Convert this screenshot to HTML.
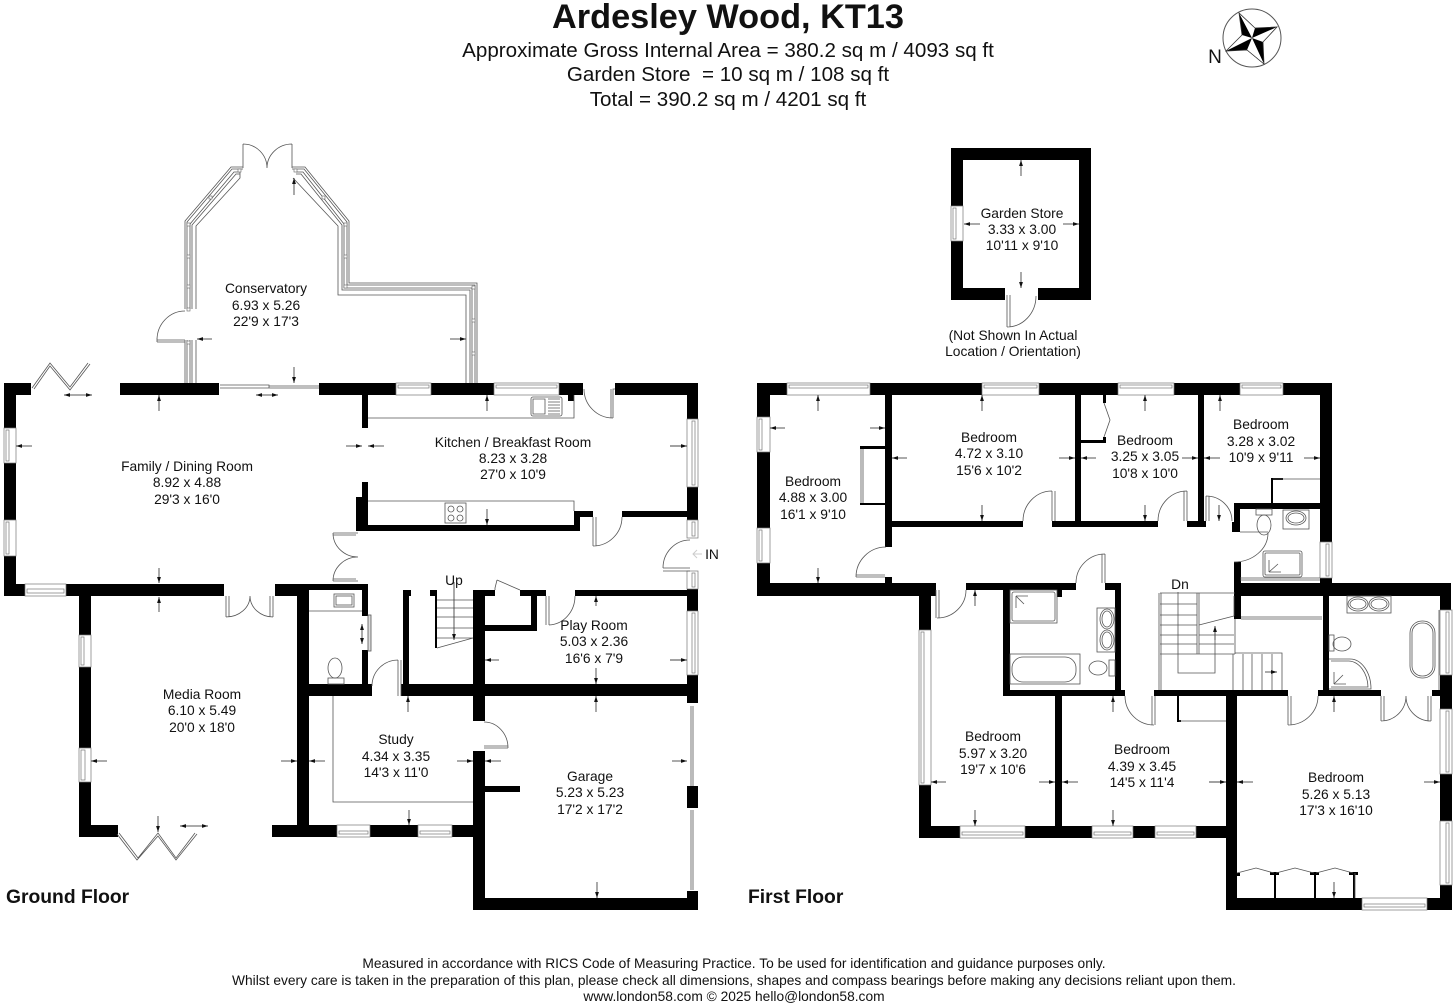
<!DOCTYPE html>
<html lang="en"><head><meta charset="utf-8"><title>Ardesley Wood, KT13</title>
<style>
html,body{margin:0;padding:0;background:#fff}
svg{display:block;font-family:"Liberation Sans",sans-serif}
text{fill:#111;text-anchor:middle}
.r{font-size:13.8px}
.h{font-size:20.6px}
.f{font-size:13.77px}
.b{font-weight:bold;text-anchor:start;font-size:19.3px}
.l{fill:none;stroke:#555;stroke-width:.8}
.d{fill:none;stroke:#444;stroke-width:.9}
.w{fill:#fff;stroke:#777;stroke-width:.7}
.i{fill:#fff;stroke:#777;stroke-width:.7}
.q{fill:#fff;stroke:#666;stroke-width:.6}
</style></head><body>
<svg width="1456" height="1008" viewBox="0 0 1456 1008" xmlns="http://www.w3.org/2000/svg">
<defs><marker id="m" markerUnits="userSpaceOnUse" markerWidth="7" markerHeight="5" refX="6" refY="2.5" orient="auto"><path d="M0 .6L6 2.5L0 4.4Z" fill="#111"/></marker></defs>
<rect width="1456" height="1008" fill="#fff"/>

<!-- Walls -->
<path fill="#000" d="
M4 383H31V395H16V428H4Z M4 463H16V520H4Z M4 556H16V584H25V596H4Z
M66 584H224V596H66Z M79 596H91V635H79Z M79 667H91V748H79Z M79 782H91V825H118V837H79Z
M275 584H368V590H309V596H275Z M297 596H309V825H297Z M272 825H337V837H272Z M370 825H418V837H370Z M452 825H473V837H452Z
M362 590H368V616H362Z M362 650H368V684H362Z M298 684H372V696H298Z M401 684H698V696H401Z
M403 590H411V596H409V684H403Z M430 590H437V648H435V596H430Z
M473 590H485V721H473Z M473 751H485V898H473Z M485 786H520V792H485Z M473 898H698V910H473Z
M687 891H698V898H687Z M687 786H698V808H687Z M687 675H698V703H687Z M687 589H698V611H687Z M687 487H698V520H687Z M687 383H698V419H687Z
M120 383H219V395H120Z M319 383H396V395H319Z M431 383H494V395H431Z M559 383H583V395H574V401H568V395H559Z M615 383H698V395H615Z
M362 395H368V428H362Z M362 482H368V497H362Z M356 497H368V525H574V511H593V517H580V531H356Z M622 511H687V517H622Z
M484 590H495V596H484Z M520 590H546V596H537V631H484V625H531V596H520Z M575 590H687V596H575Z

M757 383H787V395H770V417H757Z M757 452H770V528H757Z M757 563H770V583H936V596H757Z
M870 383H982V395H870Z M1039 383H1118V395H1039Z M1174 383H1240V395H1174Z M1283 383H1332V583H1320V578H1332V542H1320V395H1283Z
M885 395H892V547H885Z M885 577H892V583H885Z M885 521H1023V527H885Z M1052 521H1158V527H1052Z M1187 521H1206V527H1187Z
M1075 395H1081V521H1075Z M1198 395H1204V521H1198Z
M860 446H886V449H860Z M860 503H886V505H860Z M1103 395H1106V403H1103Z M1080 440H1106V443H1080Z M1103 437H1106V440H1103Z
M1234 503H1320V509H1240V532H1232V522H1234Z M1271 478H1273V503H1271Z M1271 478H1283V480H1271Z
M1234 562H1241V619H1234Z M1234 583H1451V596H1234Z M1440 596H1451V610H1440Z M1440 675H1452V690H1440Z M1440 690H1452V709H1440Z M1440 774H1452V821H1440Z M1440 885H1452V910H1440Z
M1226 898H1362V910H1226Z M1427 898H1452V910H1427Z M1226 691H1237V898H1226Z
M1154 690H1288V696H1154Z M1318 690H1381V696H1318Z M1432 690H1440V696H1432Z M1003 690H1125V696H1003Z
M966 583H1076V590H966Z M1105 583H1121V590H1105Z M1003 590H1010V690H1003Z M1115 590H1121V690H1115Z M1057 590H1062V597H1057Z M1323 596H1329V690H1323Z M1055 696H1062V826H1055Z
M919 596H931V630H919Z M919 785H931V826H960V838H919Z M1025 826H1092V838H1025Z M1133 826H1155V838H1133Z M1196 826H1226V838H1196Z
M1177 696H1179V722H1177Z M1177 720H1181V722H1177Z
M1274 873H1276V898H1274Z M1314 873H1316V898H1314Z M1353 873H1355V898H1353Z M1234 873H1240V876H1234Z M1270 872H1279V875H1270Z M1310 872H1319V875H1310Z M1349 872H1358V875H1349Z
M951 148H1091V300H1038V288H1079V160H963V206H951Z M951 241H963V288H1005V300H951Z
"/>

<!-- Windows horizontal -->
<g>
<rect class="w" x="25" y="584" width="41" height="12"/><rect class="i" x="27" y="589" width="37" height="4"/>
<rect class="w" x="396" y="383" width="35" height="12"/><rect class="i" x="398" y="385" width="31" height="3"/>
<rect class="w" x="494" y="383" width="65" height="12"/><rect class="i" x="496" y="385" width="61" height="3"/>
<rect class="w" x="337" y="825" width="33" height="12"/><rect class="i" x="339" y="831" width="29" height="3"/>
<rect class="w" x="418" y="825" width="34" height="12"/><rect class="i" x="420" y="831" width="30" height="3"/>
<rect class="w" x="787" y="383" width="83" height="12"/><rect class="i" x="789" y="385" width="79" height="3"/>
<rect class="w" x="982" y="383" width="57" height="12"/><rect class="i" x="984" y="385" width="53" height="3"/>
<rect class="w" x="1118" y="383" width="56" height="12"/><rect class="i" x="1120" y="385" width="52" height="3"/>
<rect class="w" x="1240" y="383" width="43" height="12"/><rect class="i" x="1242" y="385" width="39" height="3"/>
<rect class="w" x="960" y="826" width="65" height="12"/><rect class="i" x="962" y="832" width="61" height="3"/>
<rect class="w" x="1092" y="826" width="41" height="12"/><rect class="i" x="1094" y="832" width="37" height="3"/>
<rect class="w" x="1155" y="826" width="41" height="12"/><rect class="i" x="1157" y="832" width="37" height="3"/>
<rect class="w" x="1362" y="898" width="65" height="12"/><rect class="i" x="1364" y="904" width="61" height="3"/>
</g>
<!-- Windows vertical -->
<g>
<rect class="w" x="4" y="428" width="12" height="35"/><rect class="i" x="6" y="430" width="3" height="31"/>
<rect class="w" x="4" y="520" width="12" height="36"/><rect class="i" x="6" y="522" width="3" height="32"/>
<rect class="w" x="79" y="635" width="12" height="32"/><rect class="i" x="81" y="637" width="3" height="28"/>
<rect class="w" x="79" y="748" width="12" height="34"/><rect class="i" x="81" y="750" width="4" height="30"/>
<rect class="w" x="687" y="419" width="11" height="68"/><rect class="i" x="692" y="421" width="3" height="64"/>
<rect class="w" x="687" y="611" width="11" height="64"/><rect class="i" x="692" y="613" width="3" height="60"/>
<rect class="w" x="687" y="520" width="11" height="18"/><rect class="i" x="692" y="522" width="3" height="14"/>
<rect class="w" x="687" y="571" width="11" height="18"/><rect class="i" x="692" y="573" width="3" height="14"/>
<rect class="w" x="757" y="417" width="13" height="35"/><rect class="i" x="759" y="419" width="3" height="31"/>
<rect class="w" x="757" y="528" width="13" height="35"/><rect class="i" x="759" y="530" width="3" height="31"/>
<rect class="w" x="919" y="630" width="12" height="155"/><rect class="i" x="921" y="632" width="3" height="151"/>
<rect class="w" x="1320" y="542" width="12" height="36"/><rect class="i" x="1326" y="544" width="3" height="32"/>
<rect class="w" x="1440" y="610" width="12" height="65"/><rect class="i" x="1446" y="612" width="3" height="61"/>
<rect class="w" x="1440" y="709" width="12" height="65"/><rect class="i" x="1446" y="711" width="3" height="61"/>
<rect class="w" x="1440" y="821" width="12" height="64"/><rect class="i" x="1446" y="823" width="3" height="60"/>
<rect class="w" x="951" y="206" width="12" height="35"/><rect class="i" x="953" y="208" width="3" height="31"/>
</g>

<!-- Conservatory -->
<g class="l">
<path d="M185 383V340M185 309V221L231 167H243M187 383V340M187 309V222L232 169H243M190 383V340M190 309V224L234 172H240M192 383V340M192 309V225L236 174H240M196 383V340M196 309V226L240 178V170"/>
<path d="M292 167H305L349 221V283H477V383M292 169H304L347 222V285H475V383M296 172H303L344 224V288H472V383M296 174H301L342 225V290H470V383M293 178L338 226V295H466V383"/>
<path d="M243 168V144M292 168V144M243 144A24 24 0 0 1 267 168M292 144A25 24 0 0 0 267 168"/>
<path d="M157 340H185M157 342H185M157 340A28 29 0 0 1 185 311M157 338V342"/>
</g>
<g class="q">
<rect x="187" y="223" width="3" height="3"/><rect x="187" y="255" width="3" height="3"/><rect x="187" y="285" width="3" height="3"/><rect x="187" y="308" width="3" height="3"/><rect x="187" y="341" width="3" height="3"/>
<rect x="344" y="223" width="3" height="3"/><rect x="344" y="255" width="3" height="3"/><rect x="344" y="285" width="3" height="3"/>
<rect x="472" y="286" width="3" height="3"/><rect x="472" y="319" width="3" height="3"/><rect x="472" y="352" width="3" height="3"/>
<rect x="209" y="196" width="3" height="3"/><rect x="322" y="196" width="3" height="3"/><rect x="238" y="169" width="3" height="3"/><rect x="294" y="169" width="3" height="3"/>
</g>
<!-- Sliding door -->
<g class="l"><path d="M220 385H269V388H319M220 388H269M269 386H319"/></g>
<!-- Bifolds -->
<g class="l" stroke-width="1"><path d="M32 388L50 363L70 387L88 363M34 389L50 366L70 390L90 364"/>
<path d="M119 833L138 858L158 833L176 858L195 833M117 834L137 860L158 836L176 860L197 834"/></g>

<!-- Ground floor fittings & doors -->
<g class="l">
<path d="M368 418H574V395M368 501H574V511"/>
<rect x="531" y="397" width="31" height="19" rx="2"/><path d="M533 399H545V414H533ZM548 399H560M548 402H560M548 405H560M548 408H560M548 411H560M548 414H560"/>
<rect x="445" y="503" width="21" height="20"/><circle cx="451" cy="509" r="3"/><circle cx="460" cy="509" r="3"/><circle cx="451" cy="518" r="3"/><circle cx="460" cy="518" r="3"/>
<rect x="334" y="594" width="20" height="13"/><rect x="336" y="596" width="16" height="9"/>
<path d="M309 611H362M333 696V802H473"/>
<ellipse cx="335" cy="668" rx="7" ry="10"/><rect x="328" y="678" width="16" height="6"/>
<rect x="368" y="615" width="3" height="36" fill="#ddd"/>
<path d="M613 418V389H615M611 389V418M584 389A29 29 0 0 0 613 418"/>
<path d="M333 533H358M333 535H356M333 533A25 24 0 0 0 358 557M333 581H358M333 579H356M333 581A25 24 0 0 1 358 557"/>
<path d="M663 568H690M663 571H690M663 568A27 28 0 0 1 690 540"/>
<path d="M593 517V546M596 517V546M593 546A29 29 0 0 0 622 517"/>
<path d="M546 596V625M549 596V625M549 625A27 29 0 0 0 575 596"/>
<path d="M398 660V696M401 660V696M372 686A26 26 0 0 1 398 660"/>
<path d="M497 580L520 590M495 590V588L497 580"/>
<path d="M226 596V617M229 596V617M226 617A24 21 0 0 0 250 596M273 596V617M270 596V617M273 617A23 21 0 0 1 250 596"/>
<path d="M484 748H508M484 746H508M484 722A24 26 0 0 1 508 748"/>
<path d="M437 600H473M437 608H473M437 617H473M437 628H473M437 638H473M437 648L473 638"/>
<path d="M691 706V786M691 810V890M693 706V786M693 810V890"/>
</g>

<!-- First floor fittings & doors -->
<g class="l">
<path d="M861 449V503M863 449V503"/>
<path d="M856 577H885M856 575H885M856 577A30 30 0 0 1 886 547"/>
<path d="M1052 491V521M1055 491V521M1023 521A29 30 0 0 1 1052 491"/>
<path d="M1187 491V521M1184 491V521M1158 521A29 30 0 0 1 1187 491"/>
<path d="M1206 496V521M1209 496V521M1206 496A26 25 0 0 1 1232 521"/>
<path d="M936 590V618M939 590V618M937 618A29 28 0 0 0 966 590"/>
<path d="M1105 554V583M1102 554V583M1076 583A29 29 0 0 1 1105 554"/>
<path d="M1155 696V725M1152 696V725M1125 696A29 29 0 0 0 1154 725"/>
<path d="M1288 696V725M1291 696V725M1288 725A30 29 0 0 0 1318 696"/>
<path d="M1381 696V721M1384 696V721M1381 721A25 25 0 0 0 1406 696M1431 696V721M1428 696V721M1431 721A25 25 0 0 1 1406 696"/>
<path d="M1007 295V327M1010 295V327M1007 327A29 31 0 0 0 1036 296"/>
<path d="M1104 403L1110 420L1104 437M1273 479H1320M1179 721H1226"/>
<path d="M1237 873L1256 868L1274 873M1276 873L1295 868L1314 873M1316 873L1335 868L1353 873M1355 873V898"/>
<path d="M1268 533A34 29 0 0 1 1234 562"/>
<rect x="1256" y="509" width="16" height="6"/><ellipse cx="1264" cy="525" rx="7" ry="10"/><path d="M1240 532H1268"/>
<rect x="1283" y="510" width="26" height="19"/><ellipse cx="1296" cy="518" rx="10" ry="7"/><ellipse cx="1296" cy="518" rx="8" ry="5"/>
<rect x="1263" y="551" width="39" height="26" rx="2"/><rect x="1265" y="553" width="35" height="22" rx="1"/><path d="M1269 572L1278 564M1269 572H1281M1269 572V560M1240 578H1320M1240 580H1320"/>
<rect x="1010" y="590" width="47" height="33"/><rect x="1012" y="592" width="43" height="29" rx="2"/><path d="M1016 596L1024 604M1016 596H1028M1016 596V608"/>
<rect x="1010" y="654" width="70" height="30"/><rect x="1012" y="657" width="64" height="25" rx="11"/>
<rect x="1097" y="608" width="18" height="44"/><ellipse cx="1107" cy="619" rx="7" ry="10"/><ellipse cx="1107" cy="619" rx="5" ry="8"/><ellipse cx="1107" cy="640" rx="7" ry="10"/><ellipse cx="1107" cy="640" rx="5" ry="8"/>
<ellipse cx="1098" cy="668" rx="9" ry="7"/><rect x="1109" y="660" width="6" height="16"/>
<rect x="1347" y="596" width="44" height="17"/><ellipse cx="1358" cy="604" rx="10" ry="7"/><ellipse cx="1358" cy="604" rx="8" ry="5"/><ellipse cx="1379" cy="604" rx="10" ry="7"/><ellipse cx="1379" cy="604" rx="8" ry="5"/>
<rect x="1329" y="635" width="5" height="16"/><ellipse cx="1342" cy="644" rx="9" ry="7"/>
<path d="M1329 659H1350A21 30 0 0 1 1371 689H1329M1331 661H1349A20 27 0 0 1 1368 687H1331M1334 684L1343 675M1334 684H1346M1334 684V672"/>
<rect x="1410" y="621" width="25" height="57" rx="12"/><rect x="1412" y="623" width="21" height="53" rx="10"/>
<path d="M1439 610V690"/>
<!-- stairs -->
<path d="M1159 593V690M1161 593V690M1160 593H1235M1197 593V654M1199 593V654M1160 604H1197M1160 615H1197M1160 625H1197M1160 635H1197M1160 644H1197M1199 635H1234M1199 625L1234 616M1199 644H1234M1160 654H1235M1235 619V654M1235 653H1282V690M1233 654V690M1243 654V690M1252 654V690M1262 654V690M1272 654V690M1241 617H1322M1241 619H1322M1178 592V673H1215V627"/>
<path d="M1234 596V616"/>
</g>

<!-- Dimension arrows -->
<g class="d" marker-end="url(#m)">
<line x1="294" y1="367" x2="294" y2="383"/><line x1="294" y1="195" x2="294" y2="178"/><line x1="212" y1="339" x2="197" y2="339"/><line x1="450" y1="339" x2="466" y2="339"/>
<line x1="78" y1="395" x2="64" y2="395"/><line x1="78" y1="395" x2="92" y2="395"/><line x1="267" y1="395" x2="256" y2="395"/><line x1="267" y1="395" x2="278" y2="395"/>
<line x1="159" y1="411" x2="159" y2="395"/><line x1="32" y1="446" x2="16" y2="446"/><line x1="346" y1="446" x2="362" y2="446"/><line x1="384" y1="446" x2="368" y2="446"/>
<line x1="159" y1="568" x2="159" y2="583"/><line x1="159" y1="612" x2="159" y2="597"/>
<line x1="487" y1="411" x2="487" y2="395"/><line x1="487" y1="509" x2="487" y2="525"/><line x1="670" y1="446" x2="687" y2="446"/>
<line x1="596" y1="606" x2="596" y2="596"/><line x1="499" y1="660" x2="485" y2="660"/><line x1="670" y1="660" x2="687" y2="660"/><line x1="596" y1="668" x2="596" y2="684"/>
<line x1="596" y1="712" x2="596" y2="696"/><line x1="408" y1="712" x2="408" y2="696"/>
<line x1="281" y1="761" x2="297" y2="761"/><line x1="325" y1="761" x2="309" y2="761"/><line x1="457" y1="761" x2="473" y2="761"/><line x1="501" y1="761" x2="485" y2="761"/>
<line x1="409" y1="810" x2="409" y2="825"/><line x1="672" y1="761" x2="687" y2="761"/><line x1="597" y1="882" x2="597" y2="898"/><line x1="107" y1="761" x2="91" y2="761"/>
<line x1="158" y1="816" x2="158" y2="832"/><line x1="194" y1="826" x2="180" y2="826"/><line x1="194" y1="826" x2="208" y2="826"/>
<line x1="362" y1="634" x2="362" y2="624"/><line x1="362" y1="634" x2="362" y2="644"/>
<line x1="454" y1="582" x2="454" y2="640"/>
<line x1="818" y1="411" x2="818" y2="395"/><line x1="785" y1="428" x2="770" y2="428"/><line x1="870" y1="428" x2="885" y2="428"/><line x1="818" y1="568" x2="818" y2="583"/>
<line x1="982" y1="411" x2="982" y2="395"/><line x1="907" y1="458" x2="892" y2="458"/><line x1="1059" y1="458" x2="1075" y2="458"/><line x1="982" y1="505" x2="982" y2="521"/>
<line x1="1145" y1="411" x2="1145" y2="395"/><line x1="1096" y1="458" x2="1081" y2="458"/><line x1="1182" y1="458" x2="1198" y2="458"/><line x1="1145" y1="505" x2="1145" y2="521"/>
<line x1="1220" y1="411" x2="1220" y2="395"/><line x1="1220" y1="458" x2="1204" y2="458"/><line x1="1304" y1="458" x2="1320" y2="458"/><line x1="1219" y1="505" x2="1219" y2="521"/>
<line x1="975" y1="606" x2="975" y2="590"/><line x1="946" y1="782" x2="931" y2="782"/><line x1="1039" y1="782" x2="1055" y2="782"/><line x1="975" y1="810" x2="975" y2="826"/>
<line x1="1113" y1="712" x2="1113" y2="696"/><line x1="1078" y1="782" x2="1062" y2="782"/><line x1="1209" y1="782" x2="1226" y2="782"/><line x1="1113" y1="810" x2="1113" y2="826"/>
<line x1="1253" y1="782" x2="1237" y2="782"/><line x1="1424" y1="782" x2="1440" y2="782"/><line x1="1334" y1="712" x2="1334" y2="696"/><line x1="1334" y1="882" x2="1334" y2="898"/>
<line x1="1215" y1="640" x2="1215" y2="626"/><line x1="1265" y1="672" x2="1277" y2="672"/>
<line x1="1021" y1="176" x2="1021" y2="160"/><line x1="1021" y1="272" x2="1021" y2="288"/><line x1="980" y1="224" x2="964" y2="224"/><line x1="1063" y1="224" x2="1079" y2="224"/>
</g>
<path d="M702 554H693M697 550L693 554L697 558" fill="none" stroke="#ccc" stroke-width="1"/>

<!-- Compass -->
<circle cx="1252" cy="38" r="29" fill="#fff" stroke="#555" stroke-width="1"/>
<path d="M1252 38L1239 13L1242 35ZM1252 38L1277 27L1255 28ZM1252 38L1264 64L1263 42ZM1252 38L1226 51L1247 50Z" fill="#000"/>
<path d="M1239 13L1242 35L1226 51L1247 50L1264 64L1263 42L1277 27L1255 28Z" fill="none" stroke="#333" stroke-width=".8"/>
<path d="M1255 28L1239 13M1263 42L1277 27M1247 50L1264 64M1242 35L1226 51" stroke="#333" stroke-width=".5"/>

<!-- Header -->
<text x="728" y="28" font-size="34.3" font-weight="bold">Ardesley Wood, KT13</text>
<text class="h" x="728" y="57">Approximate Gross Internal Area = 380.2 sq m / 4093 sq ft</text>
<text class="h" x="728" y="81">Garden Store&#160; = 10 sq m / 108 sq ft</text>
<text class="h" x="728" y="106">Total = 390.2 sq m / 4201 sq ft</text>
<text x="1215" y="63" font-size="19">N</text>

<!-- Labels -->
<g class="r">
<text x="266" y="293">Conservatory</text><text x="266" y="310">6.93 x 5.26</text><text x="266" y="326">22'9 x 17'3</text>
<text x="187" y="471">Family / Dining Room</text><text x="187" y="487">8.92 x 4.88</text><text x="187" y="504">29'3 x 16'0</text>
<text x="513" y="447">Kitchen / Breakfast Room</text><text x="513" y="463">8.23 x 3.28</text><text x="513" y="479">27'0 x 10'9</text>
<text x="202" y="699">Media Room</text><text x="202" y="715">6.10 x 5.49</text><text x="202" y="732">20'0 x 18'0</text>
<text x="396" y="744">Study</text><text x="396" y="761">4.34 x 3.35</text><text x="396" y="777">14'3 x 11'0</text>
<text x="590" y="781">Garage</text><text x="590" y="797">5.23 x 5.23</text><text x="590" y="814">17'2 x 17'2</text>
<text x="594" y="630">Play Room</text><text x="594" y="646">5.03 x 2.36</text><text x="594" y="663">16'6 x 7'9</text>
<text x="454" y="585">Up</text><text x="712" y="559">IN</text><text x="1180" y="589">Dn</text>
<text x="813" y="486">Bedroom</text><text x="813" y="502">4.88 x 3.00</text><text x="813" y="519">16'1 x 9'10</text>
<text x="989" y="442">Bedroom</text><text x="989" y="458">4.72 x 3.10</text><text x="989" y="475">15'6 x 10'2</text>
<text x="1145" y="445">Bedroom</text><text x="1145" y="461">3.25 x 3.05</text><text x="1145" y="478">10'8 x 10'0</text>
<text x="1261" y="429">Bedroom</text><text x="1261" y="446">3.28 x 3.02</text><text x="1261" y="462">10'9 x 9'11</text>
<text x="993" y="741">Bedroom</text><text x="993" y="758">5.97 x 3.20</text><text x="993" y="774">19'7 x 10'6</text>
<text x="1142" y="754">Bedroom</text><text x="1142" y="771">4.39 x 3.45</text><text x="1142" y="787">14'5 x 11'4</text>
<text x="1336" y="782">Bedroom</text><text x="1336" y="799">5.26 x 5.13</text><text x="1336" y="815">17'3 x 16'10</text>
<text x="1022" y="218">Garden Store</text><text x="1022" y="234">3.33 x 3.00</text><text x="1022" y="250">10'11 x 9'10</text>
<text x="1013" y="340">(Not Shown In Actual</text><text x="1013" y="356">Location / Orientation)</text>
</g>
<text class="b" x="6" y="903">Ground Floor</text>
<text class="b" x="748" y="903">First Floor</text>
<g class="f">
<text x="734" y="968">Measured in accordance with RICS Code of Measuring Practice. To be used for identification and guidance purposes only.</text>
<text x="734" y="985">Whilst every care is taken in the preparation of this plan, please check all dimensions, shapes and compass bearings before making any decisions reliant upon them.</text>
<text x="734" y="1001">www.london58.com © 2025 hello@london58.com</text>
</g>
</svg>
</body></html>
